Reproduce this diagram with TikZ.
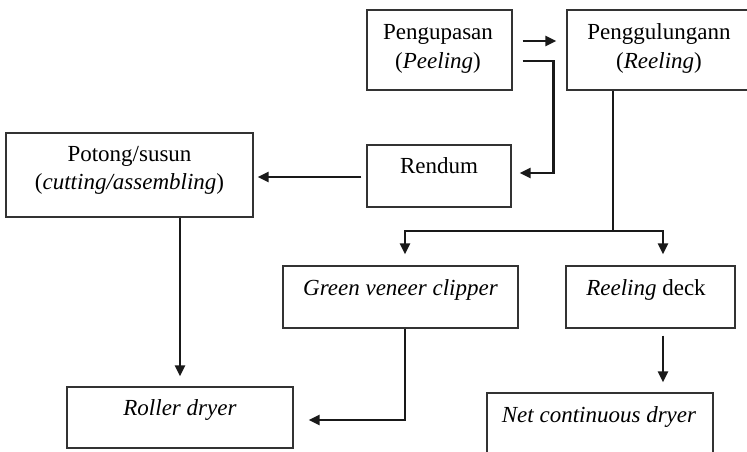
\documentclass[tikz,border=0pt]{standalone}
\usepackage{fontspec}
\setmainfont{Liberation Serif}
\usetikzlibrary{arrows.meta,calc}
\begin{document}
\begin{tikzpicture}[x=1pt,y=-1pt,
  box/.style={draw=black!80, line width=1.2pt, rectangle, inner sep=0pt},
  txt/.style={inner sep=0pt, anchor=base, font=\fontsize{23}{28.5}\selectfont, text=black},
  arr/.style={draw=black!90, line width=2.4pt, -{Triangle[length=11pt,width=10pt]}},
  ln/.style={draw=black!90, line width=2.4pt}]
\useasboundingbox (0,0) rectangle (747,452);
\clip (0,0) rectangle (747,452);
% boxes
\node[box, minimum width=145pt, minimum height=80pt] (peel) at (439.5,50) {};
\node[box, minimum width=184pt, minimum height=80pt] (reel) at (659,50) {};
\node[box, minimum width=144pt, minimum height=62pt] (rend) at (439,176) {};
\node[box, minimum width=247pt, minimum height=84pt] (pot) at (129.5,175) {};
\node[box, minimum width=235pt, minimum height=62pt] (green) at (400.5,297) {};
\node[box, minimum width=169pt, minimum height=62pt] (deck) at (650.5,297) {};
\node[box, minimum width=226pt, minimum height=61pt] (roll) at (180,417.5) {};
\node[box, minimum width=226pt, minimum height=80pt] (net) at (600,433) {};
% texts
\tabcolsep=0pt
\node[txt] (peelt) at (438,40) {\begin{tabular}[t]{c}Pengupasan\\(\textit{Peeling})\end{tabular}};
\node[txt] (reelt) at (659,40) {\begin{tabular}[t]{c}Penggulungann\\(\textit{Reeling})\end{tabular}};
\node[txt] (rendt) at (439,173) {Rendum};
\node[txt] (pott) at (129.5,161) {\begin{tabular}[t]{c}Potong/susun\\(\textit{cutting/assembling})\end{tabular}};
\node[txt] (greent) at (400.5,295) {\textit{Green veneer clipper}};
\node[txt] (deckt) at (646,295) {\textit{Reeling} deck};
\node[txt] (rollt) at (180,415) {\textit{Roller dryer}};
\node[txt] (nett) at (599,422) {\textit{Net continuous dryer}};
% connectors
\draw[arr] ([xshift=10pt,yshift=9pt]peel.east) -- ([xshift=-10pt,yshift=9pt]reel.west);
\draw[arr] ([xshift=10pt,yshift=-11pt]peel.east) -- ++(31,0) |- ([xshift=8pt,yshift=3pt]rend.east);
\draw[arr] ([xshift=-5pt,yshift=-1pt]rend.west) -- ([xshift=4pt,yshift=-2pt]pot.east);
\draw[arr] ([xshift=50.5pt]pot.south) -- ([yshift=10pt]roll.north);
\coordinate (split) at (613,231);
\draw[ln] (reel.south -| split) -- ([yshift=-1.2pt]split);
\draw[arr] (split) -| ([xshift=4.5pt,yshift=11pt]green.north);
\draw[arr] (split) -| ([xshift=12.5pt,yshift=11pt]deck.north);
\draw[arr] ([xshift=4.5pt]green.south) |- ([xshift=15pt,yshift=-2.5pt]roll.east);
\coordinate (dstart) at ([xshift=12.5pt,yshift=-7pt]deck.south);
\draw[arr, shorten >=10pt] (dstart) -- (dstart |- net.north);
\end{tikzpicture}
\end{document}
